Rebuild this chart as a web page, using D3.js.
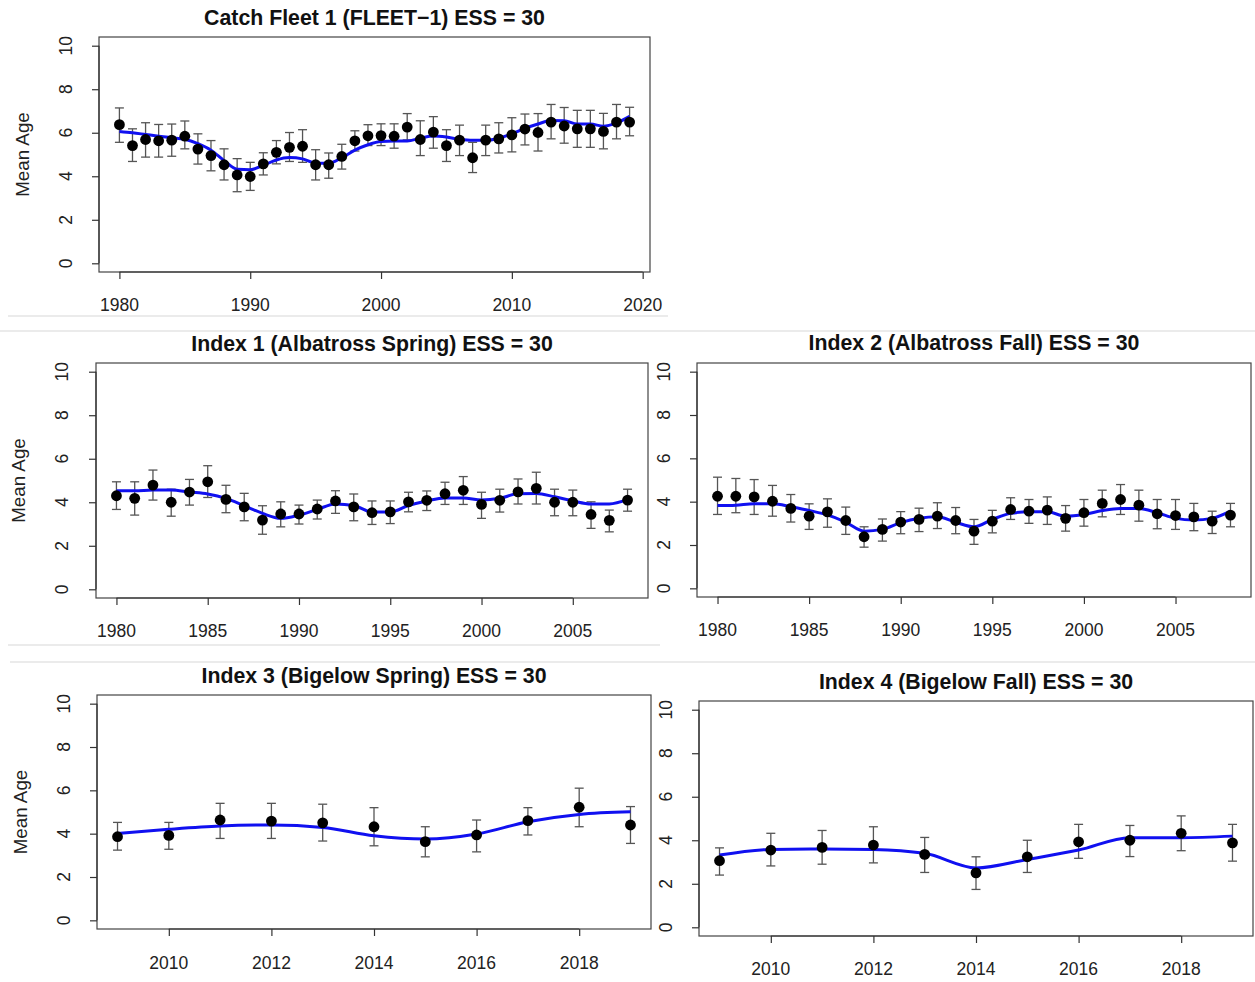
<!DOCTYPE html>
<html>
<head>
<meta charset="utf-8">
<script src="https://cdn.jsdelivr.net/npm/d3@7"></script>
<style>
  html, body { margin: 0; padding: 0; background: #fff; }
  svg { display: block; font-family: "Liberation Sans", Arial, sans-serif; }
</style>
</head>
<body>
<svg id="chart" width="1255" height="982"></svg>
<script>
// ---------------- DATA ----------------
const titles = [
  "Catch Fleet 1 (FLEET\u22121) ESS = 30",
  "Index 1 (Albatross Spring) ESS = 30",
  "Index 2 (Albatross Fall) ESS = 30",
  "Index 3 (Bigelow Spring) ESS = 30",
  "Index 4 (Bigelow Fall) ESS = 30"
];
const yLabel = "Mean Age";
const yTicks = [0, 2, 4, 6, 8, 10];

// Catch Fleet 1
const fleetYears = d3.range(1980, 2020);
const fleetObs = [6.37,5.41,5.69,5.63,5.66,5.84,5.25,4.95,4.53,4.06,3.99,4.57,5.10,5.33,5.38,4.53,4.53,4.91,5.63,5.86,
                  5.87,5.84,6.26,5.69,6.03,5.41,5.66,4.85,5.66,5.72,5.90,6.17,6.01,6.49,6.31,6.18,6.18,6.06,6.49,6.49];
const fleetLo  = [5.56,4.68,4.88,4.88,4.92,5.26,4.56,4.25,3.83,3.29,3.35,4.06,4.57,4.68,4.64,3.83,3.91,4.33,5.16,5.41,
                  5.41,5.29,5.67,4.95,5.29,4.68,4.95,4.17,4.95,5.07,5.12,5.44,5.16,5.72,5.52,5.33,5.33,5.26,5.72,5.86];
const fleetHi  = [7.14,6.18,6.46,6.38,6.40,6.54,5.95,5.64,5.26,4.81,4.64,5.08,5.64,6.01,6.14,5.22,5.07,5.47,6.09,6.37,
                  6.41,6.41,6.88,6.55,6.74,6.14,6.35,5.56,6.35,6.46,6.69,6.86,6.88,7.30,7.16,7.03,7.03,6.89,7.30,7.17];
const fleetFit = [6.06,6.00,5.92,5.84,5.77,5.70,5.50,5.20,4.72,4.32,4.30,4.50,4.75,4.86,4.80,4.60,4.60,4.85,5.20,5.45,
                  5.60,5.62,5.62,5.75,5.85,5.80,5.70,5.65,5.65,5.75,5.95,6.20,6.40,6.56,6.55,6.40,6.40,6.30,6.45,6.75];
const fleetXTicks = [1980, 1990, 2000, 2010, 2020];

// Index 1 (Albatross Spring)
const alb1Years = d3.range(1980, 2009);
const alb1Obs = [4.30,4.18,4.79,4.00,4.47,4.94,4.13,3.79,3.18,3.46,3.46,3.69,4.06,3.79,3.52,3.56,4.02,4.09,4.39,4.55,
                 3.90,4.09,4.48,4.64,4.00,4.00,3.44,3.17,4.10];
const alb1Lo  = [3.67,3.41,4.10,3.36,3.87,4.22,3.52,3.15,2.53,2.87,3.00,3.23,3.49,3.15,2.98,3.02,3.56,3.62,3.90,3.90,
                 3.26,3.55,3.92,3.92,3.38,3.38,2.80,2.64,3.59];
const alb1Hi  = [4.94,4.94,5.48,4.60,5.05,5.68,4.78,4.41,3.84,4.02,3.87,4.10,4.53,4.38,4.06,4.06,4.46,4.52,4.92,5.18,
                 4.46,4.60,5.07,5.38,4.60,4.56,4.02,3.64,4.60];
const alb1Fit = [4.53,4.53,4.56,4.56,4.47,4.38,4.18,3.84,3.49,3.26,3.41,3.67,3.92,3.85,3.55,3.55,3.85,4.06,4.20,4.20,
                 4.10,4.18,4.39,4.40,4.25,4.06,3.92,3.92,4.13];
const albXTicks = [1980, 1985, 1990, 1995, 2000, 2005];

// Index 2 (Albatross Fall)
const alb2Years = d3.range(1980, 2009);
const alb2Obs = [4.25,4.25,4.22,4.02,3.69,3.33,3.53,3.13,2.38,2.72,3.06,3.18,3.33,3.13,2.64,3.10,3.64,3.56,3.61,3.23,
                 3.49,3.92,4.10,3.84,3.44,3.36,3.30,3.10,3.38];
const alb2Lo  = [3.41,3.49,3.41,3.33,3.06,2.72,2.82,2.49,1.90,2.18,2.52,2.62,2.76,2.52,2.03,2.56,3.18,3.00,2.95,2.64,
                 2.87,3.30,3.41,3.10,2.75,2.72,2.66,2.53,2.84];
const alb2Hi  = [5.13,5.07,5.02,4.75,4.33,3.90,4.13,3.75,2.84,3.20,3.54,3.70,3.95,3.73,3.18,3.60,4.18,4.10,4.22,3.82,
                 4.10,4.53,4.79,4.53,4.10,4.10,3.92,3.56,3.92];
const alb2Fit = [3.82,3.84,3.90,3.90,3.77,3.59,3.39,3.05,2.64,2.72,3.03,3.23,3.30,3.05,2.84,3.18,3.46,3.53,3.53,3.33,
                 3.41,3.59,3.69,3.69,3.49,3.23,3.15,3.23,3.56];

// Index 3 (Bigelow Spring)
const big1Years = d3.range(2009, 2020);
const big1Obs = [3.86,3.92,4.63,4.58,4.50,4.32,3.63,3.94,4.60,5.22,4.40];
const big1Lo  = [3.24,3.28,3.78,3.78,3.66,3.44,2.93,3.16,3.94,4.32,3.55];
const big1Hi  = [4.52,4.52,5.40,5.40,5.36,5.20,4.32,4.63,5.20,6.10,5.25];
const big1Fit = [4.01,4.20,4.35,4.40,4.29,3.90,3.75,3.98,4.55,4.89,5.01];
const bigXTicks = [2010, 2012, 2014, 2016, 2018];

// Index 4 (Bigelow Fall)
const big2Years = d3.range(2009, 2020);
const big2Obs = [3.06,3.55,3.67,3.78,3.35,2.50,3.24,3.93,4.00,4.32,3.88];
const big2Lo  = [2.40,2.82,2.90,2.96,2.52,1.74,2.52,3.17,3.25,3.52,3.04];
const big2Hi  = [3.65,4.32,4.45,4.62,4.13,3.24,4.00,4.73,4.68,5.12,4.73];
const big2Fit = [3.32,3.58,3.60,3.58,3.40,2.73,3.12,3.55,4.12,4.12,4.19];

// ---------------- LAYOUT ----------------
const panels = [
  { title: titles[0], years: fleetYears, obs: fleetObs, lo: fleetLo, hi: fleetHi, fit: fleetFit, xt: fleetXTicks,
    box: {l: 99, r: 650, t: 37, b: 272}, titleY: 24, ylab: 22, ytlX: 66, xtlY: 311 },
  { title: titles[1], years: alb1Years, obs: alb1Obs, lo: alb1Lo, hi: alb1Hi, fit: alb1Fit, xt: albXTicks,
    box: {l: 96, r: 648, t: 363, b: 598}, titleY: 350, ylab: 18, ytlX: 62, xtlY: 637 },
  { title: titles[2], years: alb2Years, obs: alb2Obs, lo: alb2Lo, hi: alb2Hi, fit: alb2Fit, xt: albXTicks,
    box: {l: 697, r: 1251, t: 363, b: 597}, titleY: 349, ylab: null, ytlX: 664, xtlY: 636 },
  { title: titles[3], years: big1Years, obs: big1Obs, lo: big1Lo, hi: big1Hi, fit: big1Fit, xt: bigXTicks,
    box: {l: 97, r: 651, t: 695, b: 929}, titleY: 682, ylab: 20, ytlX: 64, xtlY: 969 },
  { title: titles[4], years: big2Years, obs: big2Obs, lo: big2Lo, hi: big2Hi, fit: big2Fit, xt: bigXTicks,
    box: {l: 699, r: 1253, t: 701, b: 936}, titleY: 688, ylab: null, ytlX: 666, xtlY: 975 }
];

const svg = d3.select("#chart");

// faint separators between the pasted plot images
const seps = [
  {x1: 8, x2: 668, y: 316}, {x1: 0, x2: 1255, y: 331},
  {x1: 8, x2: 660, y: 645}, {x1: 10, x2: 1255, y: 662}
];
svg.selectAll("line.sep").data(seps).join("line")
  .attr("class", "sep")
  .attr("x1", d => d.x1).attr("x2", d => d.x2)
  .attr("y1", d => d.y).attr("y2", d => d.y)
  .attr("stroke", "#e4e4e4").attr("stroke-width", 1.5);

const tickCol = "#333";
const errCol = "#555";

panels.forEach(p => {
  const g = svg.append("g");
  const ext = d3.extent(p.years);
  const span = ext[1] - ext[0];
  const x = d3.scaleLinear().domain([ext[0] - 0.04 * span, ext[1] + 0.04 * span]).range([p.box.l, p.box.r]);
  const y = d3.scaleLinear().domain([-0.4, 10.4]).range([p.box.b, p.box.t]);

  // box
  g.append("rect")
    .attr("x", p.box.l).attr("y", p.box.t)
    .attr("width", p.box.r - p.box.l).attr("height", p.box.b - p.box.t)
    .attr("fill", "none").attr("stroke", "#444").attr("stroke-width", 1.2);

  // y axis
  const yAx = d3.axisLeft(y).tickValues(yTicks).tickSize(7).tickFormat("");
  const ya = g.append("g").attr("transform", `translate(${p.box.l},0)`).call(yAx);
  ya.select(".domain").attr("d", `M0,${y(0)}V${y(10)}`).attr("stroke", tickCol).attr("stroke-width", 1.2);
  ya.selectAll(".tick line").attr("stroke", tickCol).attr("stroke-width", 1.2);
  g.selectAll("text.ytl").data(yTicks).join("text")
    .attr("class", "ytl")
    .attr("transform", d => `translate(${p.ytlX},${y(d)}) rotate(-90)`)
    .attr("text-anchor", "middle").attr("dominant-baseline", "central")
    .attr("font-size", 17.5).attr("fill", "#222")
    .text(d => d);

  // x axis
  const xAx = d3.axisBottom(x).tickValues(p.xt).tickSize(7).tickFormat("");
  const xa = g.append("g").attr("transform", `translate(0,${p.box.b})`).call(xAx);
  xa.select(".domain").attr("d", `M${x(p.xt[0])},0H${x(p.xt[p.xt.length - 1])}`).attr("stroke", tickCol).attr("stroke-width", 1.2);
  xa.selectAll(".tick line").attr("stroke", tickCol).attr("stroke-width", 1.2);
  g.selectAll("text.xtl").data(p.xt).join("text")
    .attr("class", "xtl")
    .attr("x", d => x(d)).attr("y", p.xtlY)
    .attr("text-anchor", "middle")
    .attr("font-size", 17.5).attr("fill", "#222")
    .text(d => d);

  // title
  g.append("text")
    .attr("x", (p.box.l + p.box.r) / 2).attr("y", p.titleY + 1)
    .attr("text-anchor", "middle")
    .attr("font-size", 21.3).attr("font-weight", "bold").attr("fill", "#111")
    .text(p.title);

  // y label
  if (p.ylab !== null) {
    g.append("text")
      .attr("transform", `translate(${p.ylab},${(p.box.t + p.box.b) / 2}) rotate(-90)`)
      .attr("text-anchor", "middle").attr("dominant-baseline", "central")
      .attr("font-size", 18.8).attr("fill", "#222")
      .text(yLabel);
  }

  const rows = p.years.map((yr, i) => ({yr, o: p.obs[i], lo: p.lo[i], hi: p.hi[i], f: p.fit[i]}));

  // error bars
  const eb = g.append("g").attr("stroke", errCol).attr("stroke-width", 1.3);
  eb.selectAll("line.v").data(rows).join("line").attr("class", "v")
    .attr("x1", d => x(d.yr)).attr("x2", d => x(d.yr))
    .attr("y1", d => y(d.lo)).attr("y2", d => y(d.hi));
  eb.selectAll("line.ct").data(rows).join("line").attr("class", "ct")
    .attr("x1", d => x(d.yr) - 4.5).attr("x2", d => x(d.yr) + 4.5)
    .attr("y1", d => y(d.hi)).attr("y2", d => y(d.hi));
  eb.selectAll("line.cb").data(rows).join("line").attr("class", "cb")
    .attr("x1", d => x(d.yr) - 4.5).attr("x2", d => x(d.yr) + 4.5)
    .attr("y1", d => y(d.lo)).attr("y2", d => y(d.lo));

  // fitted line
  const line = d3.line().x(d => x(d.yr)).y(d => y(d.f)).curve(d3.curveMonotoneX);
  g.append("path").datum(rows)
    .attr("d", line).attr("fill", "none")
    .attr("stroke", "#1010f0").attr("stroke-width", 3);

  // observed points
  g.selectAll("circle.pt").data(rows).join("circle").attr("class", "pt")
    .attr("cx", d => x(d.yr)).attr("cy", d => y(d.o)).attr("r", 5.4)
    .attr("fill", "#000");
});
</script>
</body>
</html>
